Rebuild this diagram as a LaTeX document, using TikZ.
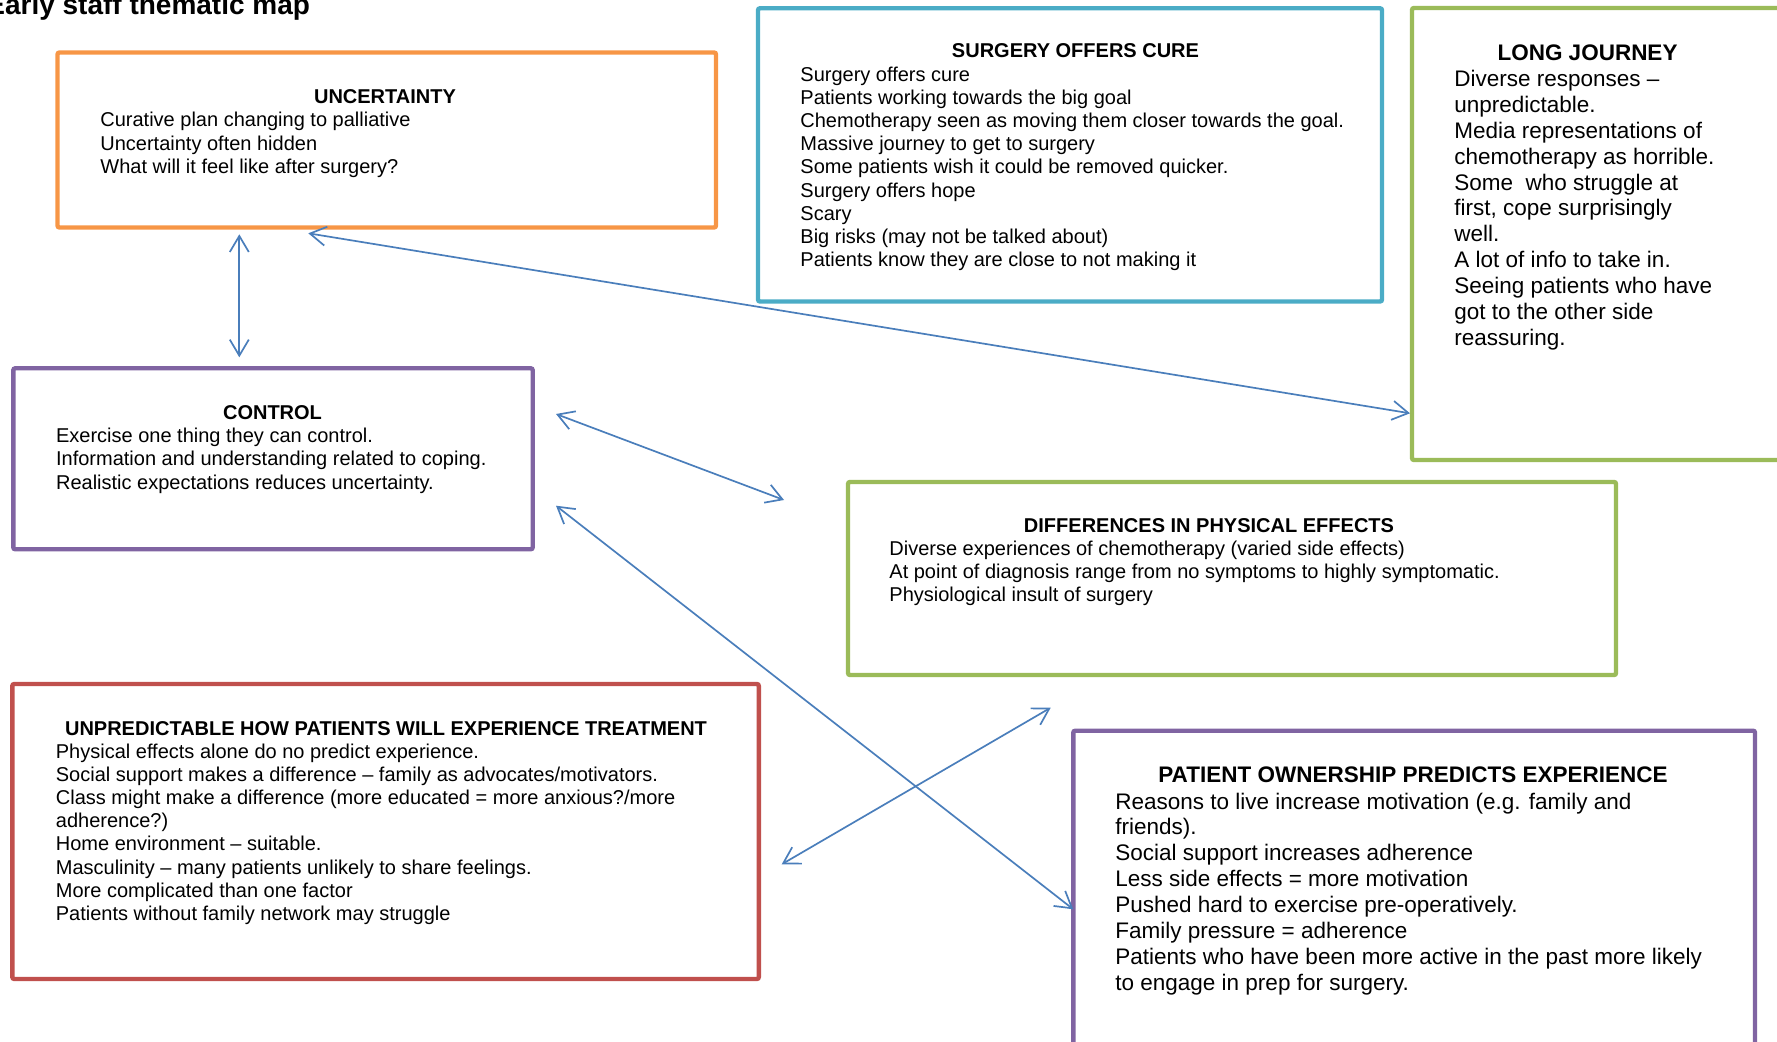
\documentclass[tikz,border=0pt]{standalone}
\usepackage{fontspec}
\setmainfont{Liberation Sans}
\usetikzlibrary{arrows.meta,fit}
\definecolor{cOrange}{HTML}{F79646}
\definecolor{cBlue}{HTML}{4BACC6}
\definecolor{cGreen}{HTML}{9BBB59}
\definecolor{cPurple}{HTML}{8064A2}
\definecolor{cRed}{HTML}{C0504D}
\definecolor{cArrow}{HTML}{4A7EBB}
\newcommand{\normtext}{\fontsize{10}{11.6}\selectfont}
\newcommand{\bigtext}{\fontsize{11.25}{12.95}\selectfont}
\newcommand{\txtlines}[1]{\begin{tabular}[t]{@{}l@{}}#1\end{tabular}}
\tikzset{
  themebox/.style={draw=#1, line width=2.2pt, inner sep=0pt, rounded corners=1pt},
  boxtitle/.style={anchor=base, inner sep=0pt, font=\normtext\bfseries},
  bigtitle/.style={anchor=base, inner sep=0pt, font=\bigtext\bfseries},
  boxbody/.style={anchor=base west, inner sep=0pt, font=\normtext},
  bigbody/.style={anchor=base west, inner sep=0pt, font=\bigtext},
  link/.style={draw=cArrow, line width=0.85pt,
    {Straight Barb[length=8pt,width=9.5pt]}-{Straight Barb[length=8pt,width=9.5pt]}}
}
\begin{document}
\begin{tikzpicture}[x=0.5pt,y=-0.5pt]
\useasboundingbox (0,0) rectangle (1777,1042);
\clip (0,0) rectangle (1777,1042);

% page title (cut at the page edge, as in the reference)
\node[anchor=base west, inner sep=0pt, font=\fontsize{14}{16}\selectfont\bfseries] (maptitle) at (-14,15) {Early staff thematic map};

% boxes
\node[themebox=cOrange, fit={(57.5,52.5) (716,227.5)}] (unc) {};
\node[themebox=cBlue, fit={(758,8.3) (1382,301.5)}] (surg) {};
\node[themebox=cGreen, fit={(1412,8) (1795,460)}] (long) {};
\node[themebox=cPurple, fit={(13.3,368.3) (532.7,549.3)}] (ctl) {};
\node[themebox=cGreen, fit={(848,482) (1616,675)}] (diff) {};
\node[themebox=cRed, fit={(12.3,684) (758.8,979)}] (unpred) {};
\node[themebox=cPurple, fit={(1073.3,730.7) (1755,1060)}] (own) {};

% UNCERTAINTY
\node[boxtitle] (unc-t) at (385,104) {UNCERTAINTY};
\node[boxbody] (unc-b) at (100,127) {\txtlines{Curative plan changing to palliative\\
Uncertainty often hidden\\
What will it feel like after surgery?}};

% SURGERY OFFERS CURE
\node[boxtitle] (surg-t) at (1075.5,58) {SURGERY OFFERS CURE};
\node[boxbody] (surg-b) at (800,81.2) {\txtlines{Surgery offers cure\\
Patients working towards the big goal\\
Chemotherapy seen as moving them closer towards the goal.\\
Massive journey to get to surgery\\
Some patients wish it could be removed quicker.\\
Surgery offers hope\\
Scary\\
Big risks (may not be talked about)\\
Patients know they are close to not making it}};

% LONG JOURNEY
\node[bigtitle] (long-t) at (1587.5,60.7) {LONG JOURNEY};
\node[bigbody] (long-b) at (1454,86.5) {\txtlines{Diverse responses --\\
unpredictable.\\
Media representations of\\
chemotherapy as horrible.\\
Some\ \ who struggle at\\
first, cope surprisingly\\
well.\\
A lot of info to take in.\\
Seeing patients who have\\
got to the other side\\
reassuring.}};

% CONTROL
\node[boxtitle] (ctl-t) at (272.5,420) {CONTROL};
\node[boxbody] (ctl-b) at (55.7,442.7) {\txtlines{Exercise one thing they can control.\\
Information and understanding related to coping.\\
Realistic expectations reduces uncertainty.}};

% DIFFERENCES IN PHYSICAL EFFECTS
\node[boxtitle] (diff-t) at (1209,532.7) {DIFFERENCES IN PHYSICAL EFFECTS};
\node[boxbody] (diff-b) at (889,555.5) {\txtlines{Diverse experiences of chemotherapy (varied side effects)\\
At point of diagnosis range from no symptoms to highly symptomatic.\\
Physiological insult of surgery}};

% UNPREDICTABLE
\node[boxtitle] (unpred-t) at (386,735) {UNPREDICTABLE HOW PATIENTS WILL EXPERIENCE TREATMENT};
\node[boxbody] (unpred-b) at (55.5,758) {\txtlines{Physical effects alone do no predict experience.\\
Social support makes a difference -- family as advocates/motivators.\\
Class might make a difference (more educated = more anxious?/more\\
adherence?)\\
Home environment -- suitable.\\
Masculinity -- many patients unlikely to share feelings.\\
More complicated than one factor\\
Patients without family network may struggle}};

% PATIENT OWNERSHIP
\node[bigtitle] (own-t) at (1413,782.7) {PATIENT OWNERSHIP PREDICTS EXPERIENCE};
\node[bigbody] (own-b) at (1115,809) {\txtlines{Reasons to live increase motivation (e.g. family and\\
friends).\\
Social support increases adherence\\
Less side effects = more motivation\\
Pushed hard to exercise pre-operatively.\\
Family pressure = adherence\\
Patients who have been more active in the past more likely\\
to engage in prep for surgery.}};

% connector end points
\coordinate (uncA) at (239.3,234.3);
\coordinate (ctlA) at (239.3,357.3);
\coordinate (uncB) at (308.3,233.3);
\coordinate (longB) at (1410,413.3);
\coordinate (ctlC) at (556,414);
\coordinate (diffC) at (784,500);
\coordinate (ctlD) at (556,505.7);
\coordinate (ownD) at (1073.3,909.3);
\coordinate (unpredE) at (781.7,864.3);
\coordinate (diffE) at (1050.7,707.7);

% connectors
\draw[link] (uncA) -- (ctlA);
\draw[link] (uncB) -- (longB);
\draw[link] (ctlC) -- (diffC);
\draw[link] (ctlD) -- (ownD);
\draw[link] (unpredE) -- (diffE);
\end{tikzpicture}
\end{document}
